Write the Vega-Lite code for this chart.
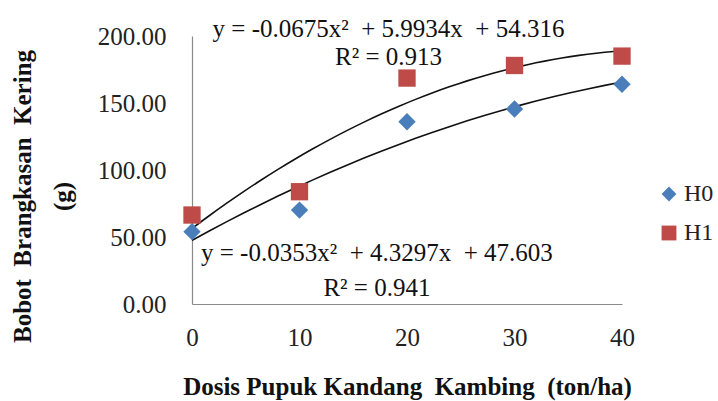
{
  "$schema": "https://vega.github.io/schema/vega-lite/v6.json",
  "width": 430,
  "height": 268,
  "autosize": {"type": "none"},
  "padding": {"left": 192, "top": 36, "right": 96, "bottom": 97},
  "background": "white",
  "config": {
    "view": {"stroke": null},
    "font": "Liberation Serif",
    "axis": {"grid": false, "ticks": false, "labelFlush": false, "domainColor": "#8a8a8a", "domainWidth": 1.2, "labelFont": "Liberation Serif", "labelFontSize": 25, "labelColor": "#222", "titleFont": "Liberation Serif", "titleFontSize": 25, "titleFontWeight": "bold", "titleColor": "#111"}
  },
  "datasets": {
    "points": [
      {"dose": 0, "weight": 54.0, "series": "H0"},
      {"dose": 10, "weight": 70.1, "series": "H0"},
      {"dose": 20, "weight": 136.0, "series": "H0"},
      {"dose": 30, "weight": 145.5, "series": "H0"},
      {"dose": 40, "weight": 164.0, "series": "H0"},
      {"dose": 0, "weight": 66.4, "series": "H1"},
      {"dose": 10, "weight": 83.8, "series": "H1"},
      {"dose": 20, "weight": 168.6, "series": "H1"},
      {"dose": 30, "weight": 178.0, "series": "H1"},
      {"dose": 40, "weight": 185.0, "series": "H1"}
    ],
    "notes": [
      {"label": "y = -0.0675x²\u00a0\u00a0+ 5.9934x\u00a0\u00a0+ 54.316", "nx": 18.28, "ny": 205},
      {"label": "R² = 0.913", "nx": 18.28, "ny": 184},
      {"label": "y = -0.0353x²\u00a0\u00a0+ 4.3297x\u00a0\u00a0+ 47.603", "nx": 17.2, "ny": 38},
      {"label": "R² = 0.941", "nx": 17.2, "ny": 12.3}
    ]
  },
  "layer": [
    {
      "data": {"name": "points"},
      "transform": [
        {"regression": "weight", "on": "dose", "groupby": ["series"], "method": "poly", "order": 2, "extent": [0, 40]}
      ],
      "mark": {"type": "line", "color": "#111", "strokeWidth": 1.6, "interpolate": "monotone"},
      "encoding": {
        "x": {"field": "dose", "type": "quantitative"},
        "y": {"field": "weight", "type": "quantitative"},
        "detail": {"field": "series"}
      }
    },
    {
      "data": {"name": "points"},
      "mark": {"type": "point", "filled": true, "opacity": 1, "size": 300},
      "encoding": {
        "x": {
          "field": "dose", "type": "quantitative",
          "scale": {"domain": [0, 40], "nice": false, "zero": false},
          "axis": {"values": [0, 10, 20, 30, 40], "labelPadding": 21, "title": "Dosis Pupuk Kandang\u00a0\u00a0Kambing\u00a0\u00a0(ton/ha)", "titlePadding": 24}
        },
        "y": {
          "field": "weight", "type": "quantitative",
          "scale": {"domain": [0, 200], "nice": false},
          "axis": {"values": [0, 50, 100, 150, 200], "format": ".2f", "labelPadding": 26, "title": ["Bobot\u00a0\u00a0Brangkasan\u00a0\u00a0Kering", "(g)"], "titleLineHeight": 40, "titlePadding": 22, "titleY": 160}
        },
        "color": {
          "field": "series", "type": "nominal",
          "scale": {"domain": ["H0", "H1"], "range": ["#4a7ebb", "#be4b48"]},
          "legend": {"title": null, "orient": "none", "legendX": 465, "legendY": 146, "labelFont": "Liberation Serif", "labelFontSize": 24, "labelColor": "#222", "symbolSize": 220, "rowPadding": 15, "labelOffset": 3}
        },
        "shape": {
          "field": "series", "type": "nominal",
          "scale": {"domain": ["H0", "H1"], "range": ["diamond", "square"]}
        }
      }
    },
    {
      "data": {"name": "notes"},
      "mark": {"type": "text", "font": "Liberation Serif", "fontSize": 25, "fontWeight": "normal", "fill": "#111", "baseline": "middle", "align": "center"},
      "encoding": {
        "x": {"field": "nx", "type": "quantitative"},
        "y": {"field": "ny", "type": "quantitative"},
        "text": {"field": "label"}
      }
    }
  ]
}
